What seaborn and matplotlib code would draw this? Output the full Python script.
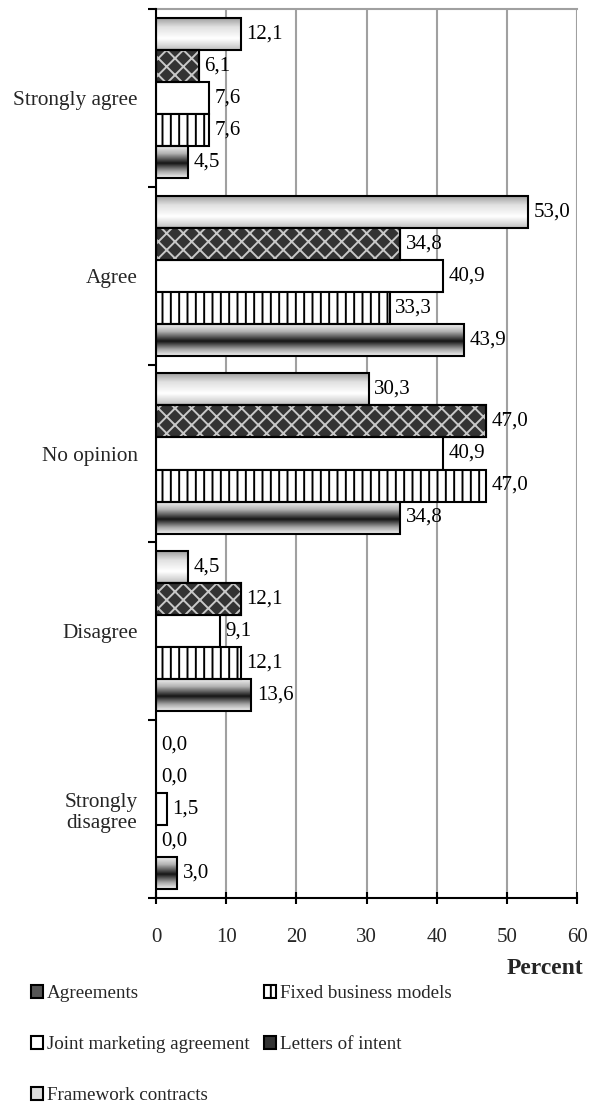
import numpy as np
import pandas as pd
import matplotlib
matplotlib.use("Agg")
import matplotlib.pyplot as plt
from matplotlib.patches import Patch, Rectangle
import seaborn as sns

categories = ["Strongly agree", "Agree", "No opinion", "Disagree", "Strongly\ndisagree"]
series = ["Framework contracts", "Letters of intent", "Joint marketing agreement",
          "Fixed business models", "Agreements"]
framework = [12.1, 53.0, 30.3, 4.5, 0.0]
letters = [6.1, 34.8, 47.0, 12.1, 0.0]
joint = [7.6, 40.9, 40.9, 9.1, 1.5]
fixed = [7.6, 33.3, 47.0, 12.1, 0.0]
agreements = [4.5, 43.9, 34.8, 13.6, 3.0]
xticks = [0, 10, 20, 30, 40, 50, 60]
legend_order = ["Agreements", "Joint marketing agreement", "Framework contracts",
                "Fixed business models", "Letters of intent"]

values = [framework, letters, joint, fixed, agreements]
df = pd.DataFrame([
    {"category": c, "series": s, "value": v}
    for s, vals in zip(series, values) for c, v in zip(categories, vals)
])

sns.set_theme(style="white")
plt.rcParams["font.family"] = ["Liberation Serif", "DejaVu Serif"]
plt.rcParams["hatch.linewidth"] = 1.4

fig = plt.figure(figsize=(5.91, 11.03), dpi=100)
ax = fig.add_axes([156 / 591, 1 - 898 / 1103, (577 - 156) / 591, (898 - 9) / 1103])

sns.barplot(data=df, y="category", x="value", hue="series", order=categories,
            hue_order=series, orient="h", width=0.9, dodge=True, ax=ax,
            palette=["white"] * 5, edgecolor="black", linewidth=1.5,
            legend=False, saturation=1)

def grad_img(stops):
    t = np.linspace(0, 1, 64)
    pos = [p for p, _ in stops]
    val = [v for _, v in stops]
    g = np.interp(t, pos, val)
    return g.reshape(-1, 1)

framework_grad = grad_img([(0, 0.6), (0.3, 0.88), (0.65, 1.0), (1.0, 0.75)])
agree_grad = grad_img([(0, 0.97), (0.25, 0.7), (0.55, 0.08), (0.8, 0.65), (1.0, 0.95)])

styles = {
    "Framework contracts": dict(kind="grad", img=framework_grad),
    "Letters of intent": dict(kind="cross"),
    "Joint marketing agreement": dict(kind="plain"),
    "Fixed business models": dict(kind="vert"),
    "Agreements": dict(kind="grad", img=agree_grad),
}

for s, container in zip(series, ax.containers):
    st = styles[s]
    for p in container.patches:
        x0, y0 = p.get_x(), p.get_y()
        w, h = p.get_width(), p.get_height()
        p.set_zorder(3)
        if st["kind"] == "grad":
            p.set_facecolor("none")
            if w > 0:
                im = ax.imshow(st["img"], cmap="gray", vmin=0, vmax=1, aspect="auto",
                               extent=[x0, x0 + w, y0 + h, y0], zorder=2,
                               interpolation="bilinear")
                im.set_clip_path(p)
        elif st["kind"] == "cross":
            p.set_facecolor("#333333")
            if w > 0:
                r = Rectangle((x0, y0), w, h, facecolor="none", edgecolor="#c8c8c8",
                              hatch="xx", linewidth=0, zorder=3.2)
                ax.add_patch(r)
                e = Rectangle((x0, y0), w, h, facecolor="none", edgecolor="black",
                              linewidth=1.5, zorder=3.4)
                ax.add_patch(e)
        elif st["kind"] == "vert":
            p.set_facecolor("white")
            p.set_hatch("||")
        else:
            p.set_facecolor("white")
        if w == 0:
            p.set_linewidth(0)
    ax.bar_label(container, labels=[f"{v:.1f}".replace(".", ",") for v in container.datavalues],
                 padding=4, fontsize=15, color="black")

ax.set_xlim(0, 60)
ax.set_ylim(len(categories) - 0.5, -0.5)
ax.set_xticks(xticks)
ax.set_xticklabels([str(t) for t in xticks], fontsize=15)
ax.set_yticks(range(len(categories)))
ax.set_yticklabels(categories, fontsize=15.3, multialignment="center")
ax.set_yticks(np.arange(-0.5, len(categories), 1.0), minor=True)
ax.tick_params(axis="y", which="major", length=0, pad=13)
ax.tick_params(axis="y", which="minor", length=6, width=1.5, direction="out", color="black", left=True)
ax.tick_params(axis="x", which="major", length=9, width=1.5, direction="inout", color="black",
               pad=17, bottom=True)
ax.set_ylabel("")
ax.set_xlabel("")
fig.text(583 / 591, 1 - 968 / 1103, "Percent", fontsize=17, fontweight="bold",
         ha="right", va="center")

ax.xaxis.grid(True, color="#a0a0a0", linewidth=1.5)
ax.yaxis.grid(False)
ax.set_axisbelow(True)
for side in ["left", "bottom"]:
    ax.spines[side].set_color("black")
    ax.spines[side].set_linewidth(1.5)
    ax.spines[side].set_zorder(4)
ax.spines["top"].set_color("#a0a0a0")
ax.spines["top"].set_linewidth(1.5)
ax.spines["right"].set_visible(False)

legend_style = {
    "Agreements": dict(facecolor="#555555", edgecolor="black"),
    "Fixed business models": dict(facecolor="white", edgecolor="black", hatch="||"),
    "Joint marketing agreement": dict(facecolor="white", edgecolor="black"),
    "Letters of intent": dict(facecolor="#333333", edgecolor="black"),
    "Framework contracts": dict(facecolor="#dddddd", edgecolor="black"),
}
handles = [Patch(label=n, linewidth=1.5, **legend_style[n]) for n in legend_order]
fig.legend(handles=handles, labels=legend_order, loc="upper left",
           bbox_to_anchor=(31 / 591, 1 - 985 / 1103), ncol=2, frameon=False,
           fontsize=13.7, handlelength=0.65, handleheight=0.65, handletextpad=0.2,
           columnspacing=0.75, labelspacing=1.78, borderaxespad=0, borderpad=0)

fig.savefig("out.png", dpi=100)
